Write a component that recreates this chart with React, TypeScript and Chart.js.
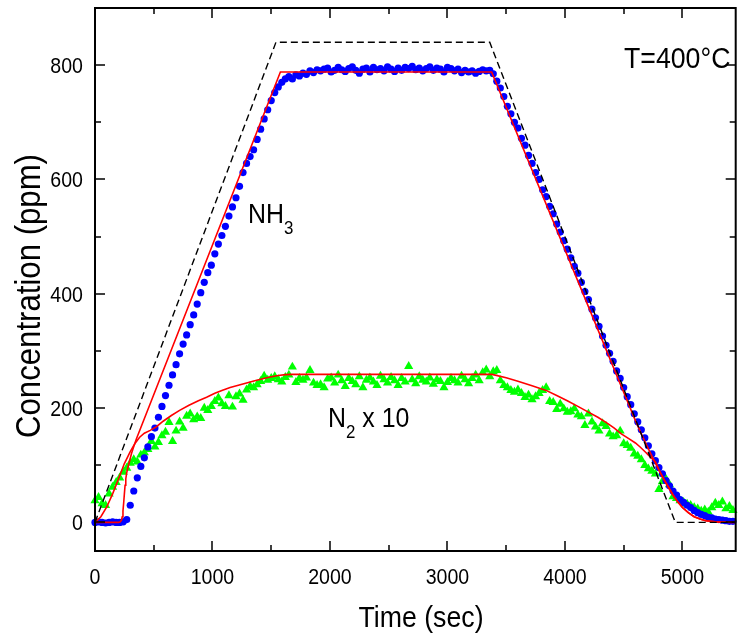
import React, { useEffect, useRef } from "react";
import { Chart, registerables } from "chart.js";

Chart.register(...registerables);

// ---------- data (time in s, concentration in ppm) ----------
const xTickValues = [0, 500, 1000, 1500, 2000, 2500, 3000, 3500, 4000, 4500, 5000];
const xTickLabels = ["0", "1000", "2000", "3000", "4000", "5000"];
const yTickValues = [0, 100, 200, 300, 400, 500, 600, 700, 800];
const yTickLabels = ["0", "200", "400", "600", "800"];

const inletNh3: [number, number][] = [
  [0, 0], [1540, 840], [3360, 840], [4940, 0], [5445, 0],
];

const nh3Model: [number, number][] = [
  [0, 0], [200, 0], [215, 1], [225, 4], [232, 10], [238, 20], [244, 34], [250, 50], [256, 65],
  [262, 76], [270, 87], [280, 96], [295, 108], [310, 120], [330, 133], [352, 146], [1578, 788],
  [3376, 788], [4600, 178], [4650, 155], [4700, 133], [4750, 112], [4800, 92], [4840, 76],
  [4880, 62], [4920, 48], [4960, 36], [5000, 26], [5050, 17], [5100, 10], [5150, 6], [5200, 3],
  [5280, 1], [5445, 0],
];

const n2Model: [number, number][] = [
  [0, 0], [50, 10], [100, 27], [150, 50], [200, 76], [250, 103], [300, 124], [340, 138],
  [380, 149], [420, 156], [470, 161], [520, 167], [580, 177], [650, 187], [720, 196], [800, 205],
  [880, 213], [950, 219], [1020, 226], [1080, 231], [1150, 236], [1220, 240], [1290, 244],
  [1360, 248], [1420, 251], [1480, 254], [1560, 257], [1620, 258.5], [1680, 259], [3380, 259],
  [3500, 253], [3600, 247], [3720, 239], [3840, 231], [3930, 222], [4020, 213], [4110, 203],
  [4200, 193], [4280, 184], [4350, 175], [4420, 165], [4480, 155], [4540, 147], [4600, 139],
  [4640, 132], [4680, 124], [4720, 116], [4770, 106], [4800, 92], [4840, 76], [4880, 62],
  [4920, 48], [4960, 36], [5000, 26], [5050, 17], [5100, 10], [5150, 6], [5200, 3], [5280, 1],
  [5445, 0],
];

const nh3Measured: [number, number][] = [
  [0, 0], [30, 1], [60, 0], [90, -1], [120, 0], [150, 1], [180, 0], [210, 0], [240, 1], [270, 5],
  [300, 30], [330, 55], [360, 78], [390, 98], [420, 113], [450, 132], [480, 150], [510, 165],
  [540, 184], [570, 203], [600, 222], [630, 240], [660, 258], [690, 276], [720, 295], [750, 312],
  [780, 328], [810, 346], [840, 363], [870, 382], [900, 402], [930, 420], [960, 437], [990, 450],
  [1020, 470], [1050, 487], [1080, 502], [1110, 518], [1140, 536], [1170, 552], [1200, 568],
  [1230, 588], [1260, 612], [1290, 628], [1320, 640], [1350, 652], [1380, 670], [1410, 688],
  [1440, 706], [1470, 722], [1500, 738], [1530, 752], [1560, 762], [1590, 770], [1620, 776],
  [1650, 780], [1680, 776], [1710, 783], [1740, 781], [1770, 786], [1800, 784], [1830, 790],
  [1860, 787], [1890, 792], [1920, 790], [1950, 793], [1980, 795], [2010, 788], [2040, 791],
  [2070, 796], [2100, 792], [2130, 789], [2160, 794], [2190, 797], [2220, 791], [2250, 786],
  [2280, 793], [2310, 795], [2340, 788], [2370, 796], [2400, 792], [2430, 794], [2460, 790],
  [2490, 797], [2520, 793], [2550, 789], [2580, 795], [2610, 791], [2640, 796], [2670, 794],
  [2700, 798], [2730, 792], [2760, 795], [2790, 790], [2820, 794], [2850, 797], [2880, 791],
  [2910, 795], [2940, 793], [2970, 788], [3000, 796], [3030, 794], [3060, 790], [3090, 793],
  [3120, 787], [3150, 791], [3180, 788], [3210, 790], [3240, 786], [3270, 789], [3300, 792],
  [3330, 790], [3360, 791], [3390, 785], [3420, 772], [3450, 760], [3480, 745], [3510, 728],
  [3540, 715], [3570, 700], [3600, 690], [3630, 672], [3660, 660], [3690, 642], [3720, 628],
  [3750, 612], [3780, 600], [3810, 582], [3840, 570], [3870, 553], [3900, 540], [3930, 522],
  [3960, 508], [3990, 493], [4020, 478], [4050, 463], [4080, 448], [4110, 436], [4140, 420],
  [4170, 404], [4200, 390], [4230, 373], [4260, 358], [4290, 343], [4320, 326], [4350, 310],
  [4380, 296], [4410, 282], [4440, 265], [4470, 252], [4500, 236], [4530, 220], [4560, 206],
  [4590, 190], [4620, 176], [4650, 162], [4680, 148], [4710, 134], [4740, 120], [4770, 108],
  [4800, 96], [4830, 85], [4860, 73], [4890, 64], [4920, 55], [4950, 48], [4980, 40], [5010, 35],
  [5040, 30], [5070, 26], [5100, 21], [5130, 17], [5160, 14], [5190, 12], [5220, 9], [5250, 8],
  [5280, 6], [5310, 5], [5340, 4], [5370, 3], [5400, 2], [5430, 2],
];

const n2x10Measured: [number, number][] = [
  [0, 38], [30, 44], [60, 33], [90, 30], [120, 50], [150, 62], [180, 70], [210, 78], [240, 88],
  [270, 95], [300, 104], [330, 110], [360, 106], [390, 118], [420, 122], [450, 128], [480, 142],
  [510, 132], [540, 140], [570, 152], [600, 158], [630, 175], [660, 142], [690, 160], [720, 176],
  [750, 165], [780, 186], [810, 190], [840, 180], [870, 185], [900, 182], [930, 200], [960, 196],
  [990, 203], [1020, 212], [1050, 218], [1080, 208], [1110, 203], [1140, 222], [1170, 202],
  [1200, 220], [1230, 225], [1260, 214], [1290, 232], [1320, 238], [1350, 236], [1380, 241],
  [1410, 247], [1440, 256], [1470, 249], [1500, 252], [1530, 255], [1560, 250], [1590, 246],
  [1620, 254], [1650, 258], [1680, 272], [1710, 245], [1740, 252], [1770, 249], [1800, 253],
  [1830, 266], [1860, 244], [1890, 240], [1920, 241], [1950, 236], [1980, 251], [2010, 253],
  [2040, 244], [2070, 258], [2100, 248], [2130, 238], [2160, 252], [2190, 247], [2220, 241],
  [2250, 255], [2280, 236], [2310, 249], [2340, 253], [2370, 246], [2400, 240], [2430, 256],
  [2460, 250], [2490, 244], [2520, 254], [2550, 248], [2580, 240], [2610, 252], [2640, 246],
  [2670, 273], [2700, 250], [2730, 243], [2760, 255], [2790, 249], [2820, 246], [2850, 253],
  [2880, 242], [2910, 250], [2940, 247], [2970, 236], [3000, 245], [3030, 252], [3060, 248],
  [3090, 244], [3120, 256], [3150, 250], [3180, 243], [3210, 252], [3240, 258], [3270, 248],
  [3300, 262], [3330, 267], [3360, 255], [3390, 264], [3420, 266], [3450, 248], [3480, 240],
  [3510, 236], [3540, 231], [3570, 228], [3600, 232], [3630, 226], [3660, 219], [3690, 223],
  [3720, 215], [3750, 220], [3780, 226], [3810, 231], [3840, 236], [3870, 212], [3900, 210],
  [3930, 198], [3960, 207], [3990, 199], [4020, 193], [4050, 194], [4080, 199], [4110, 188],
  [4140, 185], [4170, 170], [4200, 190], [4230, 176], [4260, 167], [4290, 160], [4320, 173],
  [4350, 168], [4380, 155], [4410, 150], [4440, 152], [4470, 160], [4500, 138], [4530, 135],
  [4560, 130], [4590, 120], [4620, 116], [4650, 110], [4680, 100], [4710, 94], [4740, 90],
  [4770, 85], [4800, 58], [4830, 72], [4860, 76], [4890, 66], [4920, 45], [4950, 42], [4980, 38],
  [5010, 35], [5040, 32], [5070, 30], [5100, 26], [5130, 24], [5160, 20], [5190, 22], [5220, 18],
  [5250, 26], [5280, 34], [5310, 30], [5340, 36], [5370, 24], [5400, 28], [5430, 21],
];

const toXY = (arr: [number, number][]) => arr.map(([x, y]) => ({ x, y }));

const FONT = '"Liberation Sans", Arial, sans-serif';
const SX = 0.89;

function drawText(
  ctx: CanvasRenderingContext2D,
  s: string,
  x: number,
  y: number,
  size: number,
  align: CanvasTextAlign = "left",
  rotate = 0
): number {
  ctx.save();
  ctx.font = `${size}px ${FONT}`;
  ctx.fillStyle = "#000";
  ctx.textAlign = align;
  ctx.textBaseline = "alphabetic";
  ctx.translate(x, y);
  if (rotate) ctx.rotate(rotate);
  ctx.scale(SX, 1);
  ctx.fillText(s, 0, 0);
  const w = ctx.measureText(s).width * SX;
  ctx.restore();
  return w;
}

const framePlugin = {
  id: "framePlugin",
  afterDraw(chart: any) {
    const ctx: CanvasRenderingContext2D = chart.ctx;
    const { left, top, right, bottom } = chart.chartArea;
    const xs = chart.scales.x;
    const ys = chart.scales.y;
    const rightEdge = right + 1;
    ctx.save();
    ctx.strokeStyle = "#000";
    ctx.lineWidth = 2;
    ctx.beginPath();
    ctx.rect(left, top, rightEdge - left, bottom - top);
    ctx.stroke();
    ctx.lineWidth = 1.5;
    ctx.beginPath();
    for (const v of xTickValues) {
      const px = Math.round(xs.getPixelForValue(v));
      const len = v % 1000 === 0 ? 10 : 6;
      ctx.moveTo(px, bottom);
      ctx.lineTo(px, bottom - len);
      ctx.moveTo(px, top);
      ctx.lineTo(px, top + len);
    }
    for (const v of yTickValues) {
      const py = Math.round(ys.getPixelForValue(v));
      const len = v % 200 === 0 ? 10 : 6;
      ctx.moveTo(left, py);
      ctx.lineTo(left + len, py);
      ctx.moveTo(rightEdge, py);
      ctx.lineTo(rightEdge - len, py);
    }
    ctx.stroke();
    ctx.restore();

    // tick labels
    for (const lbl of xTickLabels) {
      drawText(ctx, lbl, xs.getPixelForValue(Number(lbl)), 584, 22, "center");
    }
    for (const lbl of yTickLabels) {
      drawText(ctx, lbl, 83, ys.getPixelForValue(Number(lbl)) + 8, 22, "right");
    }
    // axis titles
    drawText(ctx, "Time (sec)", 421, 627, 30, "center");
    drawText(ctx, "Concentration (ppm)", 40, 296, 35, "center", -Math.PI / 2);

    // annotations
    let w = drawText(ctx, "NH", 248, 223, 28);
    drawText(ctx, "3", 248 + w, 234, 19);
    w = drawText(ctx, "N", 328, 427, 28);
    const w2 = drawText(ctx, "2", 328 + w, 438, 19);
    drawText(ctx, " x 10", 328 + w + w2, 427, 28);
    drawText(ctx, "T=400°C", 624, 68, 30);
  },
};

export default function App() {
  const canvasRef = useRef<HTMLCanvasElement | null>(null);

  useEffect(() => {
    if (!canvasRef.current) return;
    const chart = new Chart(canvasRef.current, {
      type: "scatter",
      data: {
        datasets: [
          {
            label: "inlet",
            data: toXY(inletNh3),
            showLine: true,
            borderColor: "#000",
            borderWidth: 1.4,
            borderDash: [7, 4],
            pointRadius: 0,
            order: 0,
          },
          {
            label: "NH3 model",
            data: toXY(nh3Model),
            showLine: true,
            borderColor: "#ff0000",
            borderWidth: 1.6,
            pointRadius: 0,
            tension: 0,
            order: 1,
          },
          {
            label: "N2 model",
            data: toXY(n2Model),
            showLine: true,
            borderColor: "#ff0000",
            borderWidth: 1.6,
            pointRadius: 0,
            tension: 0,
            order: 1,
          },
          {
            label: "NH3",
            data: toXY(nh3Measured),
            showLine: false,
            pointStyle: "circle",
            pointRadius: 3.6,
            pointBackgroundColor: "#0000ff",
            pointBorderColor: "#0000ff",
            pointBorderWidth: 0,
            clip: 6,
            order: 2,
          },
          {
            label: "N2 x 10",
            data: toXY(n2x10Measured),
            showLine: false,
            pointStyle: "triangle",
            pointRadius: 5.3,
            pointBackgroundColor: "#00ff00",
            pointBorderColor: "#00ff00",
            pointBorderWidth: 0,
            clip: 6,
            order: 3,
          },
        ],
      } as any,
      options: {
        animation: false,
        responsive: true,
        maintainAspectRatio: false,
        layout: { padding: { left: 0, top: 8, right: 0, bottom: 0 } },
        plugins: { legend: { display: false }, tooltip: { enabled: false } },
        scales: {
          x: {
            type: "linear",
            min: 0,
            max: 5445,
            grid: { display: false },
            border: { display: false },
            ticks: { display: false },
            afterFit: (s: any) => {
              s.height = 87;
            },
          },
          y: {
            type: "linear",
            min: -50,
            max: 900,
            grid: { display: false },
            border: { display: false },
            ticks: { display: false },
            afterFit: (s: any) => {
              s.width = 95;
            },
          },
        },
      } as any,
      plugins: [framePlugin],
    });
    return () => chart.destroy();
  }, []);

  return (
    <div style={{ position: "fixed", left: 0, top: 0, width: 740, height: 638, background: "#fff" }}>
      <canvas ref={canvasRef} />
    </div>
  );
}
